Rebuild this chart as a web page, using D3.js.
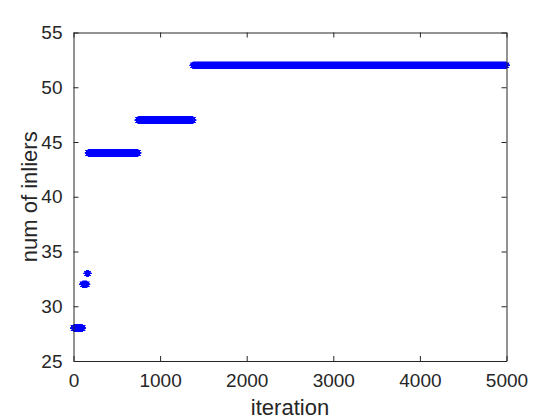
<!DOCTYPE html>
<html>
<head>
<meta charset="utf-8">
<script src="https://cdn.jsdelivr.net/npm/d3@7"></script>
<style>
  body { margin: 0; background: #fff; }
  text { font-family: "Liberation Sans", Arial, Helvetica, sans-serif; fill: #262626; }
</style>
</head>
<body>
<div id="chart"></div>
<script>
// runs of the best inlier count (first iteration, last iteration, value)
const runStart = [1, 105, 155, 170, 745, 1380];
const runEnd = [104, 154, 169, 744, 1379, 5000];
const inliers = [28, 32, 33, 44, 47, 52];

const xTicks = [0, 1000, 2000, 3000, 4000, 5000];
const yTicks = [25, 30, 35, 40, 45, 50, 55];

const width = 560;
const height = 420;
const margin = { top: 32.5, right: 53.5, bottom: 59, left: 73.5 };
const w = width - margin.left - margin.right;
const h = height - margin.top - margin.bottom;

const svg = d3.select("#chart").append("svg")
    .attr("width", width)
    .attr("height", height);

const g = svg.append("g").attr("transform", `translate(${margin.left},${margin.top})`);

const x = d3.scaleLinear().domain([0, 5000]).range([0, w]);
const y = d3.scaleLinear().domain([25, 55]).range([h, 0]);

// one point per iteration, value held from the runs
let points = [];
runStart.forEach((s, i) => {
    for (let it = s; it <= runEnd[i]; it++) points.push([it, inliers[i]]);
});

// MATLAB style '*' marker
const r = 3.4, q = r * 0.7071;
function star(cx, cy) {
    return `M${cx - r},${cy}h${2 * r}` +
           `M${cx},${cy - r}v${2 * r}` +
           `M${cx - q},${cy - q}l${2 * q},${2 * q}` +
           `M${cx - q},${cy + q}l${2 * q},${-2 * q}`;
}

g.append("path")
    .attr("d", points.map(p => star(x(p[0]), y(p[1]))).join(""))
    .attr("fill", "none")
    .attr("stroke", "#0000ff")
    .attr("stroke-width", 1);

// axes with inward ticks, box on
const fmt = d3.format("d");
const xAxis = d3.axisBottom(x).tickValues(xTicks).tickFormat(fmt).tickSizeInner(-5).tickSizeOuter(0).tickPadding(13);
const yAxis = d3.axisLeft(y).tickValues(yTicks).tickFormat(fmt).tickSizeInner(-5).tickSizeOuter(0).tickPadding(11);

const xg = g.append("g").attr("transform", `translate(0,${h})`).call(xAxis);
const yg = g.append("g").call(yAxis);
const xt = g.append("g").call(d3.axisTop(x).tickValues(xTicks).tickSizeInner(-5).tickSizeOuter(0).tickFormat(""));
const yr = g.append("g").attr("transform", `translate(${w},0)`)
    .call(d3.axisRight(y).tickValues(yTicks).tickSizeInner(-5).tickSizeOuter(0).tickFormat(""));

[xg, yg, xt, yr].forEach(a => {
    a.selectAll("path.domain").attr("stroke", "#262626");
    a.selectAll("line").attr("stroke", "#262626");
    a.selectAll("text").attr("font-size", 19).attr("fill", "#262626")
        .attr("font-family", "'Liberation Sans', Arial, Helvetica, sans-serif");
});

svg.append("text")
    .attr("x", margin.left + w / 2)
    .attr("y", 415)
    .attr("text-anchor", "middle")
    .attr("font-size", 22)
    .text("iteration");

svg.append("text")
    .attr("transform", `translate(37,${margin.top + h / 2}) rotate(-90)`)
    .attr("text-anchor", "middle")
    .attr("font-size", 22)
    .text("num of inliers");
</script>
</body>
</html>
